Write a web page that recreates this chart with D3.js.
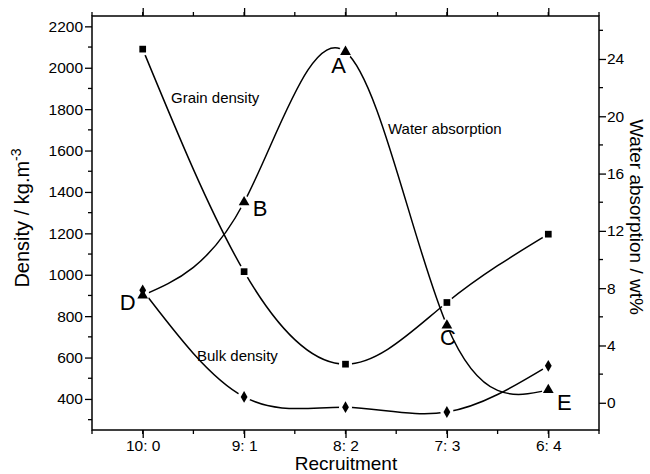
<!DOCTYPE html>
<html>
<head>
<meta charset="utf-8">
<script src="https://cdn.jsdelivr.net/npm/d3@7"></script>
<style>
  body { margin: 0; background: #fff; }
  svg { font-family: "Liberation Sans", Arial, sans-serif; }
</style>
</head>
<body>
<div id="chart"></div>
<script>
var categories = ['10: 0', '9: 1', '8: 2', '7: 3', '6: 4'];
var grainDensity = [2090, 1015, 568, 866, 1196];
var bulkDensity = [925, 410, 360, 337, 560];
var waterAbsorption = [7.5, 14.0, 24.5, 5.4, 0.9];
var pointLetters = ['D', 'B', 'A', 'C', 'E'];
var densityTicks = [400, 600, 800, 1000, 1200, 1400, 1600, 1800, 2000, 2200];
var waterTicks = [0, 4, 8, 12, 16, 20, 24];

function draw_chart() {
    var width = 650, height = 474;
    var margin = {top: 16, right: 51, bottom: 44, left: 92};
    var x0 = margin.left, x1 = width - margin.right;
    var y0 = height - margin.bottom, y1 = margin.top;

    var svg = d3.select('#chart').append('svg')
        .attr('width', width)
        .attr('height', height);

    var x = d3.scalePoint().domain(categories).range([x0, x1]).padding(0.5);
    var yLeft = d3.scaleLinear().domain([250, 2250]).range([y0, y1]);
    var yRight = d3.scaleLinear().domain([-1.9, 27]).range([y0, y1]);

    // half steps for minor ticks on x
    var step = x.step();
    var xMinor = d3.range(x0, x1 + 0.1, step / 2);

    // frame
    svg.append('rect')
        .attr('x', x0).attr('y', y1)
        .attr('width', x1 - x0).attr('height', y0 - y1)
        .attr('fill', 'none').attr('stroke', '#000').attr('stroke-width', 1.5);

    function styleAxis(g) {
        g.select('.domain').remove();
        g.selectAll('line').attr('stroke', '#000').attr('stroke-width', 1.3);
        g.selectAll('text').attr('fill', '#000').style('font-size', '15.5px');
    }

    // bottom axis
    var bottom = svg.append('g').attr('transform', `translate(0,${y0})`)
        .call(d3.axisBottom(x).tickSize(8).tickPadding(2));
    styleAxis(bottom);
    svg.append('g').selectAll('line').data(xMinor).enter().append('line')
        .attr('x1', d => d).attr('x2', d => d)
        .attr('y1', y0).attr('y2', y0 + 4)
        .attr('stroke', '#000').attr('stroke-width', 1.3);

    // top axis (ticks only)
    var top = svg.append('g').attr('transform', `translate(0,${y1})`)
        .call(d3.axisTop(x).tickSize(8).tickFormat(''));
    styleAxis(top);
    svg.append('g').selectAll('line').data(xMinor).enter().append('line')
        .attr('x1', d => d).attr('x2', d => d)
        .attr('y1', y1).attr('y2', y1 - 4)
        .attr('stroke', '#000').attr('stroke-width', 1.3);

    // left axis
    var left = svg.append('g').attr('transform', `translate(${x0},0)`)
        .call(d3.axisLeft(yLeft).tickValues(densityTicks).tickSize(7).tickPadding(2).tickFormat(d3.format('d')));
    styleAxis(left);
    var leftMinor = d3.range(300, 2250, 200);
    svg.append('g').selectAll('line').data(leftMinor).enter().append('line')
        .attr('x1', x0 - 4).attr('x2', x0)
        .attr('y1', d => yLeft(d)).attr('y2', d => yLeft(d))
        .attr('stroke', '#000').attr('stroke-width', 1.3);

    // right axis
    var right = svg.append('g').attr('transform', `translate(${x1},0)`)
        .call(d3.axisRight(yRight).tickValues(waterTicks).tickSize(7).tickPadding(1));
    styleAxis(right);
    var rightMinor = d3.range(2, 27, 4);
    svg.append('g').selectAll('line').data(rightMinor).enter().append('line')
        .attr('x1', x1).attr('x2', x1 + 4)
        .attr('y1', d => yRight(d)).attr('y2', d => yRight(d))
        .attr('stroke', '#000').attr('stroke-width', 1.3);

    // axis titles
    svg.append('text')
        .attr('transform', 'translate(29,218) rotate(-90)')
        .attr('text-anchor', 'middle')
        .style('font-size', '20px')
        .html('Density / kg.m<tspan dy="-8" font-size="14px">-3</tspan>');
    svg.append('text')
        .attr('transform', 'translate(630,217) rotate(90)')
        .attr('text-anchor', 'middle')
        .style('font-size', '19px')
        .text('Water absorption / wt%');
    svg.append('text')
        .attr('x', 346).attr('y', 470)
        .attr('text-anchor', 'middle')
        .style('font-size', '19px')
        .text('Recruitment');

    // curves
    var series = [
        {values: grainDensity, y: yLeft, shape: d3.symbolSquare, size: 45},
        {values: bulkDensity, y: yLeft, shape: d3.symbolDiamond, size: 40},
        {values: waterAbsorption, y: yRight, shape: d3.symbolTriangle, size: 50}
    ];

    var plot = svg.append('g');
    series.forEach(function(s) {
        var line = d3.line()
            .x((d, i) => x(categories[i]))
            .y(d => s.y(d))
            .curve(d3.curveNatural);
        plot.append('path')
            .attr('d', line(s.values))
            .attr('fill', 'none')
            .attr('stroke', '#000')
            .attr('stroke-width', 1.5);
    });

    // small gaps around markers
    series.forEach(function(s) {
        plot.selectAll(null).data(s.values).enter().append('circle')
            .attr('cx', (d, i) => x(categories[i]))
            .attr('cy', d => s.y(d))
            .attr('r', 6.5)
            .attr('fill', '#fff');
    });
    series.forEach(function(s) {
        plot.selectAll(null).data(s.values).enter().append('path')
            .attr('d', d3.symbol().type(s.shape).size(s.size))
            .attr('transform', (d, i) => `translate(${x(categories[i])},${s.y(d)})`)
            .attr('fill', '#000');
    });

    // letters next to water absorption points
    var letterOffset = [[-15, 15], [16, 14], [-7, 21], [1, 20], [16, 20]];
    plot.selectAll(null).data(pointLetters).enter().append('text')
        .attr('x', (d, i) => x(categories[i]) + letterOffset[i][0])
        .attr('y', (d, i) => yRight(waterAbsorption[i]) + letterOffset[i][1])
        .attr('text-anchor', 'middle')
        .style('font-size', '22px')
        .text(d => d);

    // curve names
    var names = [
        {text: 'Grain density', x: 171, y: 103},
        {text: 'Water absorption', x: 388, y: 134},
        {text: 'Bulk density', x: 197, y: 361}
    ];
    plot.selectAll(null).data(names).enter().append('text')
        .attr('x', d => d.x).attr('y', d => d.y)
        .style('font-size', '15px')
        .text(d => d.text);
}

document.addEventListener('DOMContentLoaded', draw_chart);
</script>
</body>
</html>
